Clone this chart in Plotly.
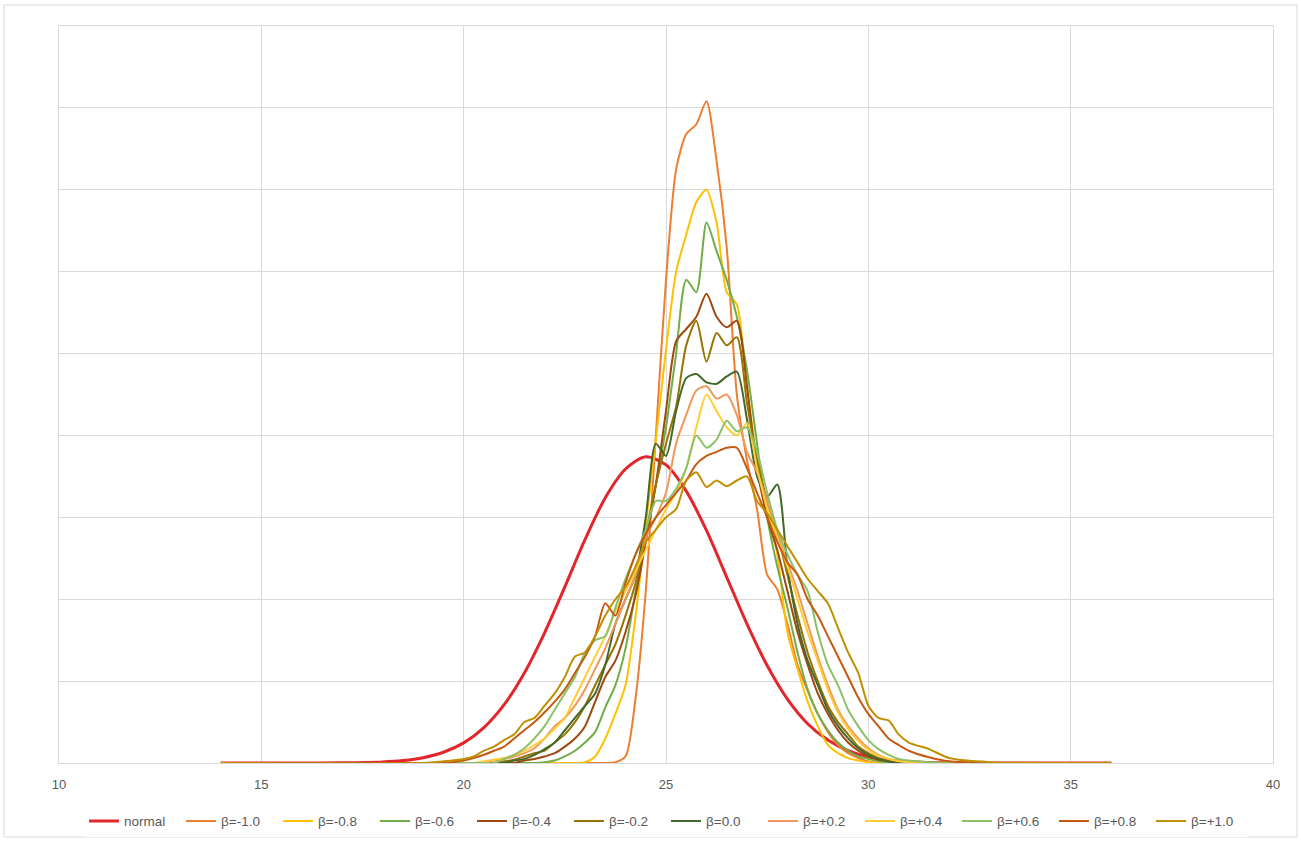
import plotly.graph_objects as go

# ---------------- data (y in gridline units) ----------------
NORMAL_X = [14, 15, 16, 17, 18, 18.5, 19, 19.5, 20, 20.5, 21, 21.5, 22, 22.5, 23, 23.5, 24, 24.5,
            25, 25.5, 26, 26.5, 27, 27.5, 28, 28.5, 29, 29.5, 30, 30.5, 31, 32, 33, 34, 35, 36]
NORMAL_Y = [0, 0, 0, 0.002, 0.013, 0.03, 0.065, 0.131, 0.246, 0.433, 0.713, 1.10, 1.59, 2.15, 2.73, 3.24, 3.59, 3.74,
            3.64, 3.32, 2.84, 2.27, 1.70, 1.19, 0.78, 0.48, 0.28, 0.15, 0.075, 0.035, 0.016, 0.002, 0, 0, 0, 0]

X = [14, 19, 19.5, 20, 20.25, 20.5, 20.75, 21, 21.25, 21.5, 21.75, 22, 22.25, 22.5, 22.75, 23,
     23.25, 23.5, 23.75, 24, 24.25, 24.5, 24.75, 25, 25.25, 25.5, 25.75, 26, 26.25, 26.5, 26.75, 27,
     27.25, 27.5, 27.75, 28, 28.25, 28.5, 28.75, 29, 29.25, 29.5, 29.75, 30, 30.25, 30.5, 30.75, 31,
     31.5, 32, 33, 36]

B_M10 = [0, 0, 0, 0, 0, 0, 0, 0, 0, 0, 0, 0, 0, 0, 0, 0,
         0, 0, 0.01, 0.08, 0.8, 2.1, 4.0, 5.9, 7.25, 7.68, 7.8, 8.08, 7.35, 6.3, 4.5, 3.7,
         3.1, 2.3, 2.12, 1.7, 1.2, 0.88, 0.6, 0.38, 0.22, 0.12, 0.06, 0.02, 0, 0, 0, 0,
         0, 0, 0, 0]
B_M08 = [0, 0, 0, 0, 0, 0, 0, 0, 0, 0, 0, 0, 0, 0, 0, 0.01,
         0.08, 0.3, 0.6, 0.95, 1.8, 2.9, 3.95, 5.05, 6.0, 6.45, 6.85, 7.0, 6.6, 5.75, 5.6, 4.6,
         3.7, 3.1, 2.55, 1.6, 1.15, 0.75, 0.45, 0.22, 0.12, 0.06, 0.03, 0.01, 0, 0, 0, 0,
         0, 0, 0, 0]
B_M06 = [0, 0, 0, 0, 0, 0, 0, 0, 0, 0, 0, 0.01, 0.03, 0.08, 0.15, 0.25,
         0.38, 0.68, 0.95, 1.4, 2.1, 2.75, 3.4, 4.1, 5.0, 5.9, 5.75, 6.6, 6.25, 5.9, 5.45, 4.8,
         3.9, 3.0, 2.4, 1.9, 1.35, 0.9, 0.6, 0.4, 0.25, 0.15, 0.08, 0.05, 0.02, 0.01, 0, 0,
         0, 0, 0, 0]
B_M04 = [0, 0, 0, 0, 0, 0, 0, 0, 0, 0.03, 0.05, 0.08, 0.12, 0.2, 0.3, 0.45,
         0.75, 1.05, 1.25, 1.6, 2.05, 2.7, 3.4, 4.3, 5.15, 5.3, 5.45, 5.73, 5.45, 5.32, 5.4, 4.6,
         3.6, 3.0, 2.6, 2.1, 1.6, 1.2, 0.85, 0.6, 0.4, 0.25, 0.15, 0.08, 0.04, 0.02, 0, 0,
         0, 0, 0, 0]
B_M02 = [0, 0, 0, 0, 0, 0, 0, 0.02, 0.04, 0.08, 0.12, 0.15, 0.25, 0.35, 0.5, 0.7,
         0.95, 1.2, 1.45, 1.8, 2.2, 2.8, 3.4, 3.9, 4.35, 5.1, 5.4, 4.9, 5.25, 5.1, 5.2, 4.4,
         3.7, 3.2, 2.8, 2.3, 1.8, 1.35, 1.0, 0.7, 0.5, 0.35, 0.2, 0.12, 0.06, 0.03, 0.01, 0,
         0, 0, 0, 0]
B_00 = [0, 0, 0, 0, 0, 0, 0, 0, 0.03, 0.05, 0.1, 0.17, 0.25, 0.4, 0.55, 0.7,
        0.85, 1.2, 1.7, 2.0, 2.3, 3.0, 3.9, 3.75, 4.3, 4.7, 4.75, 4.65, 4.63, 4.72, 4.78, 4.2,
        3.5, 3.25, 3.4, 2.4, 1.7, 1.25, 0.95, 0.65, 0.45, 0.3, 0.18, 0.1, 0.05, 0.02, 0, 0,
        0, 0, 0, 0]
B_P02 = [0, 0, 0, 0, 0, 0, 0.03, 0.05, 0.08, 0.12, 0.18, 0.3, 0.45, 0.55, 0.7, 0.9,
         1.15, 1.4, 1.7, 2.0, 2.3, 2.75, 3.0, 3.3, 3.9, 4.25, 4.55, 4.6, 4.45, 4.5, 4.25, 3.8,
         3.55, 3.2, 2.8, 2.45, 2.1, 1.7, 1.3, 0.95, 0.65, 0.45, 0.3, 0.18, 0.1, 0.05, 0.03, 0.01,
         0, 0, 0, 0]
B_P04 = [0, 0, 0, 0, 0, 0.02, 0.04, 0.06, 0.1, 0.15, 0.22, 0.3, 0.42, 0.55, 0.8, 1.05,
         1.3, 1.55, 1.85, 2.1, 2.35, 2.6, 2.85, 3.1, 3.3, 3.6, 4.1, 4.5, 4.3, 4.1, 4.0, 4.15,
         3.6, 3.1, 2.75, 2.4, 2.0, 1.6, 1.25, 0.9, 0.62, 0.42, 0.27, 0.16, 0.09, 0.05, 0.02, 0.01,
         0, 0, 0, 0]
B_P06 = [0, 0, 0, 0, 0, 0, 0, 0.05, 0.1, 0.18, 0.3, 0.45, 0.65, 0.85, 1.05, 1.35,
         1.5, 1.55, 1.9, 2.25, 2.55, 2.85, 3.2, 3.2, 3.35, 3.6, 4.0, 3.85, 3.95, 4.18, 4.05, 4.1,
         3.8, 3.3, 2.85, 2.55, 2.3, 2.1, 1.6, 1.2, 0.95, 0.65, 0.45, 0.28, 0.17, 0.1, 0.05, 0.03,
         0.01, 0, 0, 0]
B_P08 = [0, 0, 0, 0.03, 0.06, 0.1, 0.15, 0.2, 0.3, 0.4, 0.5, 0.62, 0.75, 0.9, 1.1, 1.3,
         1.55, 1.95, 1.8, 2.2, 2.55, 2.8, 3.0, 3.15, 3.3, 3.45, 3.65, 3.75, 3.8, 3.85, 3.85, 3.6,
         3.3, 3.0, 2.7, 2.45, 2.3, 2.0, 1.8, 1.55, 1.3, 1.05, 0.8, 0.6, 0.45, 0.3, 0.22, 0.15,
         0.07, 0.02, 0, 0]
B_P10 = [0, 0, 0.02, 0.05, 0.08, 0.15, 0.2, 0.28, 0.35, 0.5, 0.55, 0.7, 0.85, 1.05, 1.3, 1.35,
         1.55, 1.8, 2.0, 2.15, 2.4, 2.7, 2.85, 3.0, 3.1, 3.45, 3.55, 3.37, 3.45, 3.38, 3.45, 3.5,
         3.2, 3.05, 2.85, 2.65, 2.45, 2.25, 2.1, 1.95, 1.65, 1.35, 1.1, 0.7, 0.55, 0.52, 0.35, 0.25,
         0.17, 0.06, 0.01, 0]

SERIES_NAMES = ["β=-1.0", "β=-0.8", "β=-0.6", "β=-0.4", "β=-0.2", "β=0.0",
                "β=+0.2", "β=+0.4", "β=+0.6", "β=+0.8", "β=+1.0"]
SERIES_VALUES = [B_M10, B_M08, B_M06, B_M04, B_M02, B_00, B_P02, B_P04, B_P06, B_P08, B_P10]
SERIES_COLORS = ["#ED7D31", "#FFC000", "#70AD47", "#9E480E", "#997300", "#43682B",
                 "#F1975A", "#FFCD33", "#8CC168", "#C55A11", "#BF9000"]

X_TICKS = [10, 15, 20, 25, 30, 35, 40]

# ---------------- figure ----------------
fig = go.Figure()
fig.add_trace(go.Scatter(x=NORMAL_X, y=NORMAL_Y, name="normal", mode="lines",
                         line=dict(color="#E3262B", width=3, shape="spline", smoothing=0.8)))
for name, vals, col in zip(SERIES_NAMES, SERIES_VALUES, SERIES_COLORS):
    fig.add_trace(go.Scatter(x=X, y=vals, name=name, mode="lines",
                             line=dict(color=col, width=2, shape="spline", smoothing=0.7)))

W, H = 1301, 841
ml, mr, mt, mb = 59, 28, 26, 78
pw, ph = W - ml - mr, H - mt - mb

fig.update_layout(
    width=W, height=H,
    margin=dict(l=ml, r=mr, t=mt, b=mb, autoexpand=False),
    paper_bgcolor="white", plot_bgcolor="white",
    font=dict(family="Liberation Sans, Arial, sans-serif", size=13, color="#595959"),
    showlegend=True,
    legend=dict(orientation="h", x=0.5, xanchor="center", y=-0.058, yanchor="top",
                font=dict(size=13.5, color="#595959"), itemwidth=30, entrywidth=52),
    xaxis=dict(range=[10, 40], tickvals=X_TICKS, showgrid=True, gridcolor="#D9D9D9", gridwidth=1,
               zeroline=False, showline=True, mirror=True, linecolor="#D9D9D9", linewidth=1,
               ticks="outside", ticklen=9, tickcolor="rgba(0,0,0,0)",
               tickfont=dict(size=13, color="#595959")),
    yaxis=dict(range=[0, 9], dtick=1, showgrid=True, gridcolor="#D9D9D9", gridwidth=1,
               zeroline=False, showline=True, mirror=True, linecolor="#D9D9D9", linewidth=1,
               showticklabels=False, ticks=""),
    shapes=[dict(type="rect", xref="paper", yref="paper",
                 x0=(4 - ml) / pw, x1=(1297 - ml) / pw,
                 y0=(H - mb - 837) / ph, y1=(H - mb - 5) / ph,
                 line=dict(color="#D9D9D9", width=1), layer="below")],
)

fig.write_html("out.html")
